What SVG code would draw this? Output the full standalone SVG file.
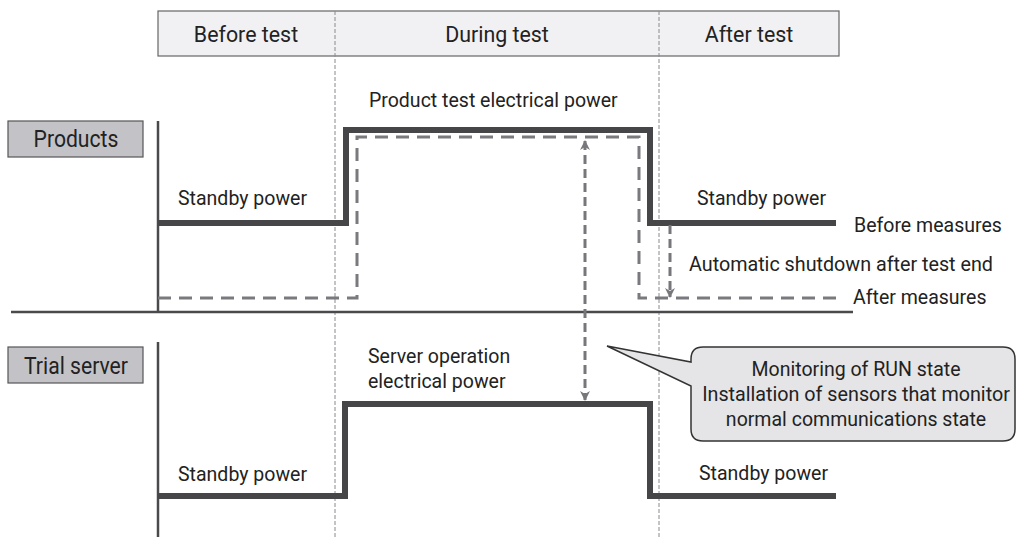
<svg xmlns="http://www.w3.org/2000/svg" width="1016" height="539" viewBox="0 0 1016 539">
  <defs>
    <style>
      text { font-family: Roboto, "Liberation Sans", sans-serif; fill: #222; }
      .hdr { font-size: 23px; text-anchor: middle; }
      .lbl { font-size: 23px; text-anchor: middle; }
      .t { font-size: 21px; }
      .c { font-size: 21px; text-anchor: middle; }
      .divider { stroke: #8a8a8e; stroke-width: 1; stroke-dasharray: 4 2; fill: none; }
      .axis { stroke: #4a4a4c; stroke-width: 2.5; fill: none; }
      .power { stroke: #464648; stroke-width: 6; fill: none; stroke-linejoin: miter; }
      .measure { stroke: #7a7a7e; stroke-width: 3; fill: none; stroke-dasharray: 13 8; }
      .arrow { stroke: #77777b; stroke-width: 3; fill: none; stroke-dasharray: 9 5; }
    </style>
    <marker id="head" viewBox="0 0 10 10" refX="9" refY="5" markerWidth="10" markerHeight="10" markerUnits="userSpaceOnUse" orient="auto-start-reverse">
      <path d="M0,0 L10,5 L0,10 L3,5 Z" fill="#77777b"/>
    </marker>
  </defs>

  <!-- phase header -->
  <g id="phase-header">
    <rect x="158" y="11" width="681" height="45" fill="#f1f1f3" stroke="#666" stroke-width="1.2"/>
    <text class="hdr" transform="translate(246,42) scale(0.93,1)">Before test</text>
    <text class="hdr" transform="translate(497,42) scale(0.93,1)">During test</text>
    <text class="hdr" transform="translate(749,42) scale(0.93,1)">After test</text>
  </g>

  <!-- phase dividers -->
  <g id="dividers">
    <line class="divider" x1="335" y1="11" x2="335" y2="539"/>
    <line class="divider" x1="659" y1="11" x2="659" y2="539"/>
  </g>

  <!-- row labels -->
  <g id="products-label">
    <rect x="8" y="121" width="135" height="36" fill="#c3c3c7" stroke="#555" stroke-width="1.2"/>
    <text class="lbl" transform="translate(76,147) scale(0.92,1)">Products</text>
  </g>
  <g id="server-label">
    <rect x="8" y="347" width="135" height="36" fill="#c3c3c7" stroke="#555" stroke-width="1.2"/>
    <text class="lbl" transform="translate(76,374) scale(0.92,1)">Trial server</text>
  </g>

  <!-- axes -->
  <g id="axes">
    <line class="axis" x1="158" y1="121" x2="158" y2="312"/>
    <line class="axis" x1="11" y1="312" x2="853" y2="312"/>
    <line class="axis" x1="158" y1="342" x2="158" y2="537"/>
  </g>

  <!-- products power curves -->
  <g id="products-power">
    <path class="measure" d="M158,298 H357 V137 H639 V298 H836"/>
    <path class="power" d="M158,223 H346 V130 H650 V223 H836"/>
    <text class="t" transform="translate(369,107) scale(0.93,1)">Product test electrical power</text>
    <text class="t" transform="translate(178,205) scale(0.93,1)">Standby power</text>
    <text class="t" transform="translate(697,205) scale(0.93,1)">Standby power</text>
    <text class="t" transform="translate(854,232) scale(0.93,1)">Before measures</text>
    <text class="t" transform="translate(689,271) scale(0.94,1)">Automatic shutdown after test end</text>
    <text class="t" transform="translate(853,304) scale(0.93,1)">After measures</text>
  </g>

  <!-- server power curve -->
  <g id="server-power">
    <path class="power" d="M158,496 H345 V404 H650 V496 H836"/>
    <text class="t" transform="translate(368,363) scale(0.93,1)">Server operation</text>
    <text class="t" transform="translate(368,388) scale(0.93,1)">electrical power</text>
    <text class="t" transform="translate(178,481) scale(0.93,1)">Standby power</text>
    <text class="t" transform="translate(699,480) scale(0.93,1)">Standby power</text>
  </g>

  <!-- connectors -->
  <g id="connectors">
    <line class="arrow" x1="585" y1="141" x2="585" y2="400" marker-start="url(#head)" marker-end="url(#head)"/>
    <line class="arrow" x1="670" y1="225" x2="670" y2="297" marker-end="url(#head)"/>
  </g>

  <!-- callout -->
  <g id="callout">
    <path d="M703,347 H1003 Q1015,347 1015,359 V429 Q1015,441 1003,441 H703 Q691,441 691,429 V386 L607,346 L691,362 V359 Q691,347 703,347 Z" fill="#e5e5e7" stroke="#333" stroke-width="1.5"/>
    <text class="c" transform="translate(856,376) scale(0.93,1)">Monitoring of RUN state</text>
    <text class="c" transform="translate(856,401) scale(0.94,1)">Installation of sensors that monitor</text>
    <text class="c" transform="translate(856,426) scale(0.93,1)">normal communications state</text>
  </g>
</svg>
